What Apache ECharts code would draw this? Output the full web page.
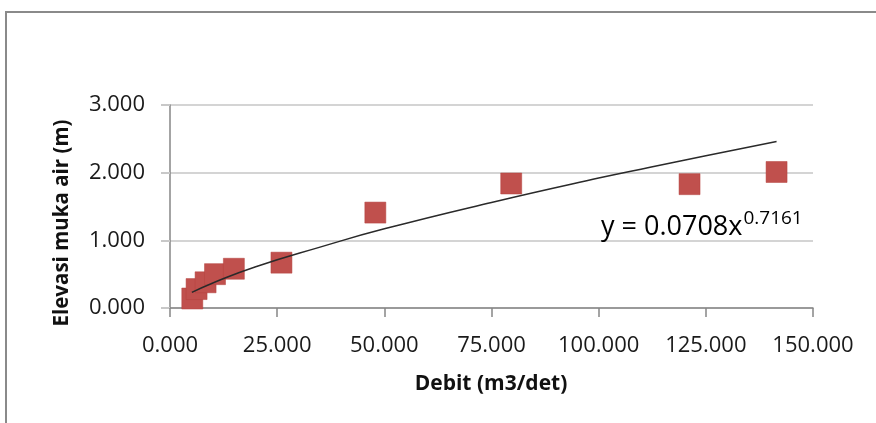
<!DOCTYPE html>
<html>
<head>
<meta charset="utf-8">
<script src="https://cdn.jsdelivr.net/npm/echarts@6/dist/echarts.min.js"></script>
<style>
  html, body { margin: 0; padding: 0; background: #fff; }
  #main_show { width: 876px; height: 423px; }
</style>
</head>
<body>
<div id="main_show"></div>
<script>
// Debit (m3/det) vs elevasi muka air (m)
var debit   = [5.2, 6.2, 8.3, 10.5, 14.9, 26.0, 47.9, 79.6, 121.2, 141.5];
var elevasi = [0.14, 0.28, 0.38, 0.50, 0.58, 0.67, 1.41, 1.84, 1.83, 2.01];

// points read along the drawn power trendline
var trendX = [5.1, 10, 20, 35, 50, 75, 100, 112, 125, 141.5];
var trendY = [0.23, 0.37, 0.61, 0.90, 1.17, 1.56, 1.92, 2.08, 2.25, 2.46];

var xTicks = [0, 25, 50, 75, 100, 125, 150];
var yTicks = [0, 1, 2, 3];

var font = "'Open Sans', 'Liberation Sans', sans-serif";

var points = debit.map(function (d, i) { return [d, elevasi[i]]; });
var trend = trendX.map(function (d, i) { return [d, trendY[i]]; });

var main_show = echarts.init(document.getElementById("main_show"));
var option = {
    animation: false,
    backgroundColor: '#fff',
    grid: {
        left: 170,
        right: 63,
        top: 105,
        bottom: 115
    },
    xAxis: {
        type: 'value',
        min: xTicks[0],
        max: xTicks[xTicks.length - 1],
        interval: 25,
        axisLine: { show: true, lineStyle: { color: '#868686', width: 1.5 } },
        axisTick: { show: true, inside: false, length: 9, lineStyle: { color: '#868686', width: 1.5 } },
        splitLine: { show: false },
        axisLabel: {
            margin: 27,
            color: '#1a1a1a',
            fontFamily: font,
            fontSize: 22,
            formatter: function (v) { return v.toFixed(3); }
        }
    },
    yAxis: {
        type: 'value',
        min: yTicks[0],
        max: yTicks[yTicks.length - 1],
        interval: 1,
        axisLine: { show: true, lineStyle: { color: '#868686', width: 1.5 } },
        axisTick: { show: true, length: 9, lineStyle: { color: '#c8c8c8', width: 2 } },
        splitLine: { show: true, lineStyle: { color: '#d4d4d4', width: 2 } },
        axisLabel: {
            margin: 25,
            color: '#1a1a1a',
            fontFamily: font,
            fontSize: 22,
            formatter: function (v) { return v.toFixed(3); }
        }
    },
    series: [
        {
            name: 'data',
            type: 'scatter',
            symbol: 'rect',
            symbolSize: 21,
            itemStyle: { color: '#C0504D', opacity: 1, borderColor: '#b4423f', borderWidth: 0.5 },
            data: points,
            z: 2
        },
        {
            name: 'trend',
            type: 'line',
            smooth: true,
            showSymbol: false,
            lineStyle: { color: '#2a2a2a', width: 1.5 },
            data: trend,
            z: 3
        }
    ],
    graphic: [
        {
            type: 'rect',
            shape: { x: 6, y: 12, width: 900, height: 500 },
            style: { fill: 'none', stroke: '#8a8a8a', lineWidth: 2 },
            silent: true
        },
        {
            type: 'text',
            x: 601,
            y: 209,
            style: {
                text: '{a|y = 0.0708x}{b|0.7161}',
                rich: {
                    a: { fontFamily: font, fontSize: 27, color: '#111', lineHeight: 32, verticalAlign: 'bottom' },
                    b: { fontFamily: font, fontSize: 19, color: '#111', lineHeight: 32, verticalAlign: 'top', padding: [0, 0, 0, 1] }
                }
            },
            z: 10
        },
        {
            type: 'text',
            x: 491,
            y: 384,
            style: {
                text: 'Debit (m3/det)',
                fontFamily: font,
                fontSize: 21,
                fontWeight: 'bold',
                fill: '#111',
                align: 'center',
                verticalAlign: 'middle'
            }
        },
        {
            type: 'text',
            x: 62,
            y: 223,
            rotation: Math.PI / 2,
            style: {
                text: 'Elevasi muka air (m)',
                fontFamily: font,
                fontSize: 20.5,
                fontWeight: 'bold',
                fill: '#111',
                align: 'center',
                verticalAlign: 'middle'
            }
        }
    ]
};
main_show.setOption(option);
</script>
</body>
</html>
